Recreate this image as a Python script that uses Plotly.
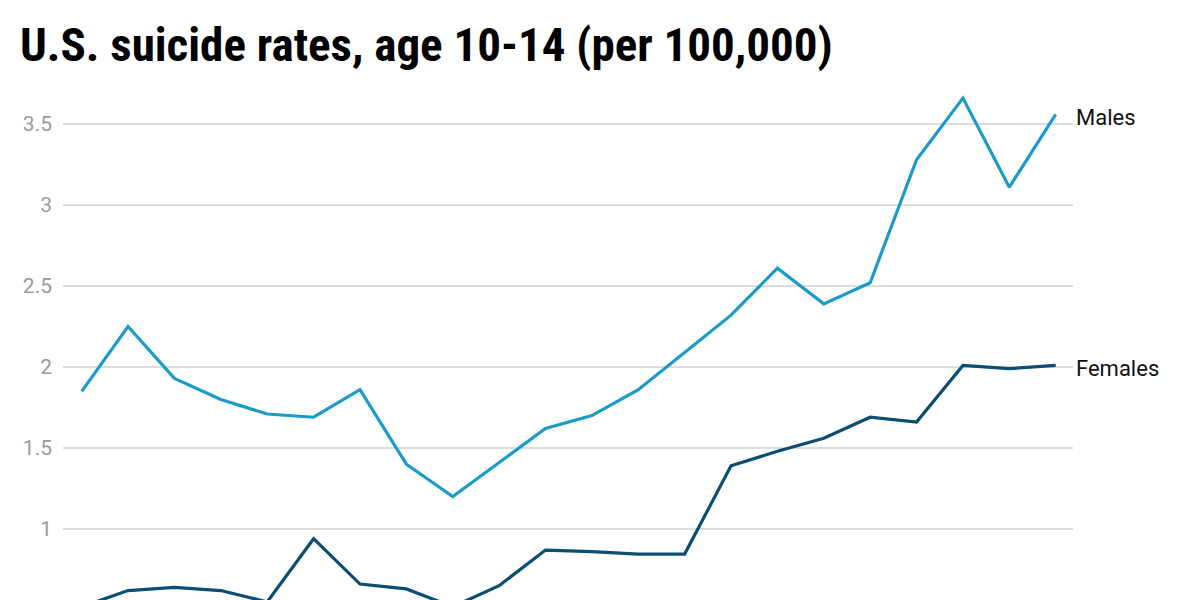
import plotly.graph_objects as go

years = list(range(1999, 2021 + 1))[:22]
males = [1.85, 2.25, 1.93, 1.80, 1.71, 1.69, 1.86, 1.40, 1.20, 1.41, 1.62,
         1.70, 1.86, 2.09, 2.32, 2.61, 2.39, 2.52, 3.28, 3.66, 3.11, 3.56]
females = [0.52, 0.62, 0.64, 0.62, 0.55, 0.94, 0.66, 0.63, 0.52, 0.65, 0.87,
           0.86, 0.845, 0.845, 1.39, 1.48, 1.56, 1.69, 1.66, 2.01, 1.99, 2.01]
series_names = ["Males", "Females"]
colors = ["#1a9bc8", "#0b4d73"]
y_ticks = [1, 1.5, 2, 2.5, 3, 3.5]
y_tick_text = ["1", "1.5", "2", "2.5", "3", "3.5"]
title_text = "U.S. suicide rates, age 10-14 (per 100,000)"

fig = go.Figure()
for name, vals, col in zip(series_names, [males, females], colors):
    fig.add_trace(go.Scatter(x=years, y=vals, mode="lines", name=name,
                             line=dict(color=col, width=3.2), hoverinfo="x+y"))
    fig.add_annotation(x=years[-1], y=vals[-1], text=name, showarrow=False,
                       xanchor="left", yanchor="middle", xshift=18, yshift=-3,
                       font=dict(family="Roboto", size=22, color="#111111"))

fig.update_layout(
    width=1200, height=600,
    margin=dict(l=63, r=127, t=85, b=0),
    paper_bgcolor="white", plot_bgcolor="white",
    showlegend=False,
    title=dict(text=title_text, xref="container", yref="container",
               x=20 / 1200, xanchor="left", y=1 - 45 / 600, yanchor="middle",
               font=dict(family="Roboto Condensed, Liberation Sans Narrow, DejaVu Sans Condensed, Roboto",
                         size=47, color="#000000", weight="bold")),
    xaxis=dict(range=[years[0] - 0.403, years[-1] + 0.373], showticklabels=False,
               showgrid=False, zeroline=False, showline=False, ticks=""),
    yaxis=dict(range=[0.5617, 3.741], tickvals=y_ticks, ticktext=y_tick_text,
               showgrid=True, gridcolor="#dddddd", gridwidth=1.5, zeroline=False,
               showline=False, ticks="", ticklabelstandoff=10,
               tickfont=dict(family="Roboto", size=21, color="#9a9a9a")),
)

fig.write_html("out.html")
